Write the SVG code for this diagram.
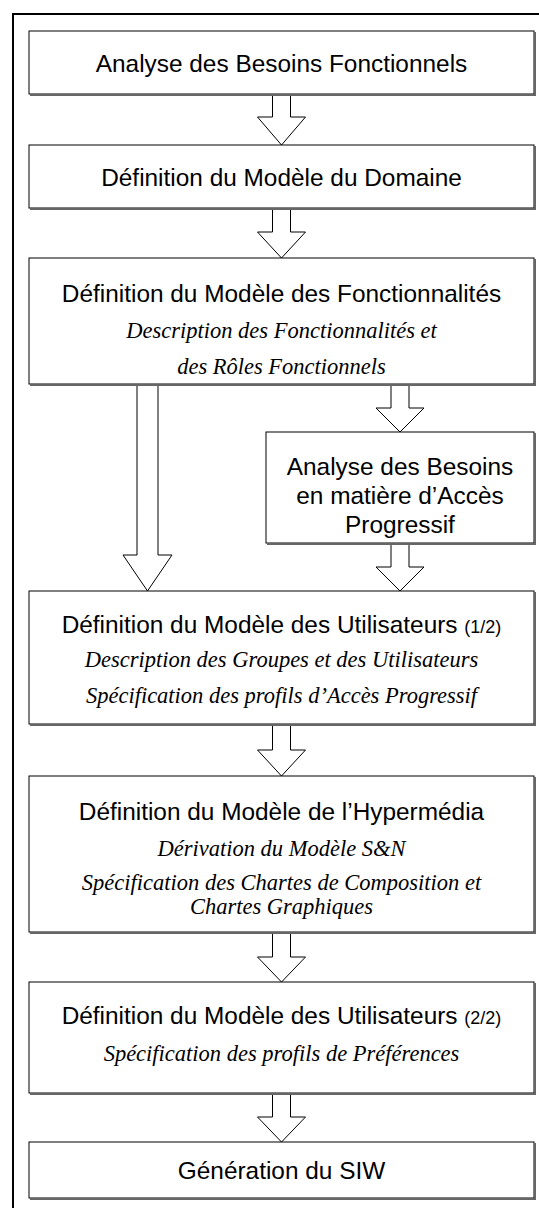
<svg xmlns="http://www.w3.org/2000/svg" width="539" height="1208" viewBox="0 0 539 1208">
<style>
.frame{fill:none;stroke:#000;stroke-width:2}
.box{fill:#fff;stroke:#000;stroke-width:1}
.shadow{fill:none;stroke:#666;stroke-width:2}
.arrow{fill:#fff;stroke:#000;stroke-width:1;stroke-linejoin:miter}
.t{font-family:"Liberation Sans",Arial,sans-serif;font-size:24.4px;fill:#000;text-anchor:middle}
.s{font-size:18px}
.i{font-family:"Liberation Serif","Times New Roman",serif;font-style:italic;font-size:22.5px;fill:#000;text-anchor:middle}
</style>
<rect width="539" height="1208" fill="#fff"/>
<path class="frame" d="M13,1208 V14 H539"/>
<g id="connectors">
<path class="arrow" d="M272.5,94 V117 H257.5 L281.5,145 L305.5,117 H290.5 V94"/>
<path class="arrow" d="M272.5,208 V232 H257.5 L281.5,258 L305.5,232 H290.5 V208"/>
<path class="arrow" d="M137,384 V555 H123 L147.5,591 L172,555 H158 V384"/>
<path class="arrow" d="M391,384 V408 H376 L400,432 L424,408 H409 V384"/>
<path class="arrow" d="M391,543 V567 H376 L400,591 L424,567 H409 V543"/>
<path class="arrow" d="M272.5,724 V750 H257.5 L281.5,776 L305.5,750 H290.5 V724"/>
<path class="arrow" d="M272.5,932 V957 H257.5 L281.5,982 L305.5,957 H290.5 V932"/>
<path class="arrow" d="M272.5,1093 V1117 H257.5 L281.5,1142 L305.5,1117 H290.5 V1093"/>
</g>
<g id="n1">
<rect class="box" x="29" y="31" width="505" height="63"/>
<path class="shadow" d="M535,32 V95 H30"/>
<text class="t" x="281.5" y="72">Analyse des Besoins Fonctionnels</text>
</g>
<g id="n2">
<rect class="box" x="29" y="145" width="505" height="63"/>
<path class="shadow" d="M535,146 V209 H30"/>
<text class="t" x="281.5" y="186">Définition du Modèle du Domaine</text>
</g>
<g id="n3">
<rect class="box" x="29" y="258" width="505" height="126"/>
<path class="shadow" d="M535,259 V385 H30"/>
<text class="t" x="281.5" y="302">Définition du Modèle des Fonctionnalités</text>
<text class="i" x="281.5" y="338">Description des Fonctionnalités et</text>
<text class="i" x="281.5" y="374">des Rôles Fonctionnels</text>
</g>
<g id="n4">
<rect class="box" x="266" y="432" width="268" height="111"/>
<path class="shadow" d="M535,433 V544 H267"/>
<text class="t" x="400" y="475">Analyse des Besoins</text>
<text class="t" x="400" y="504">en matière d’Accès</text>
<text class="t" x="400" y="533">Progressif</text>
</g>
<g id="n5">
<rect class="box" x="29" y="591" width="505" height="133"/>
<path class="shadow" d="M535,592 V725 H30"/>
<text class="t" x="281.5" y="633">Définition du Modèle des Utilisateurs <tspan class="s">(1/2)</tspan></text>
<text class="i" x="281.5" y="667">Description des Groupes et des Utilisateurs</text>
<text class="i" x="281.5" y="703">Spécification des profils d’Accès Progressif</text>
</g>
<g id="n6">
<rect class="box" x="29" y="776" width="505" height="156"/>
<path class="shadow" d="M535,777 V933 H30"/>
<text class="t" x="281.5" y="820">Définition du Modèle de l’Hypermédia</text>
<text class="i" x="281.5" y="856">Dérivation du Modèle S&amp;N</text>
<text class="i" x="281.5" y="890">Spécification des Chartes de Composition et</text>
<text class="i" x="281.5" y="914">Chartes Graphiques</text>
</g>
<g id="n7">
<rect class="box" x="29" y="982" width="505" height="111"/>
<path class="shadow" d="M535,983 V1094 H30"/>
<text class="t" x="281.5" y="1024">Définition du Modèle des Utilisateurs <tspan class="s">(2/2)</tspan></text>
<text class="i" x="281.5" y="1061">Spécification des profils de Préférences</text>
</g>
<g id="n8">
<rect class="box" x="29" y="1142" width="505" height="56"/>
<path class="shadow" d="M535,1143 V1199 H30"/>
<text class="t" x="281.5" y="1179">Génération du SIW</text>
</g>
</svg>
